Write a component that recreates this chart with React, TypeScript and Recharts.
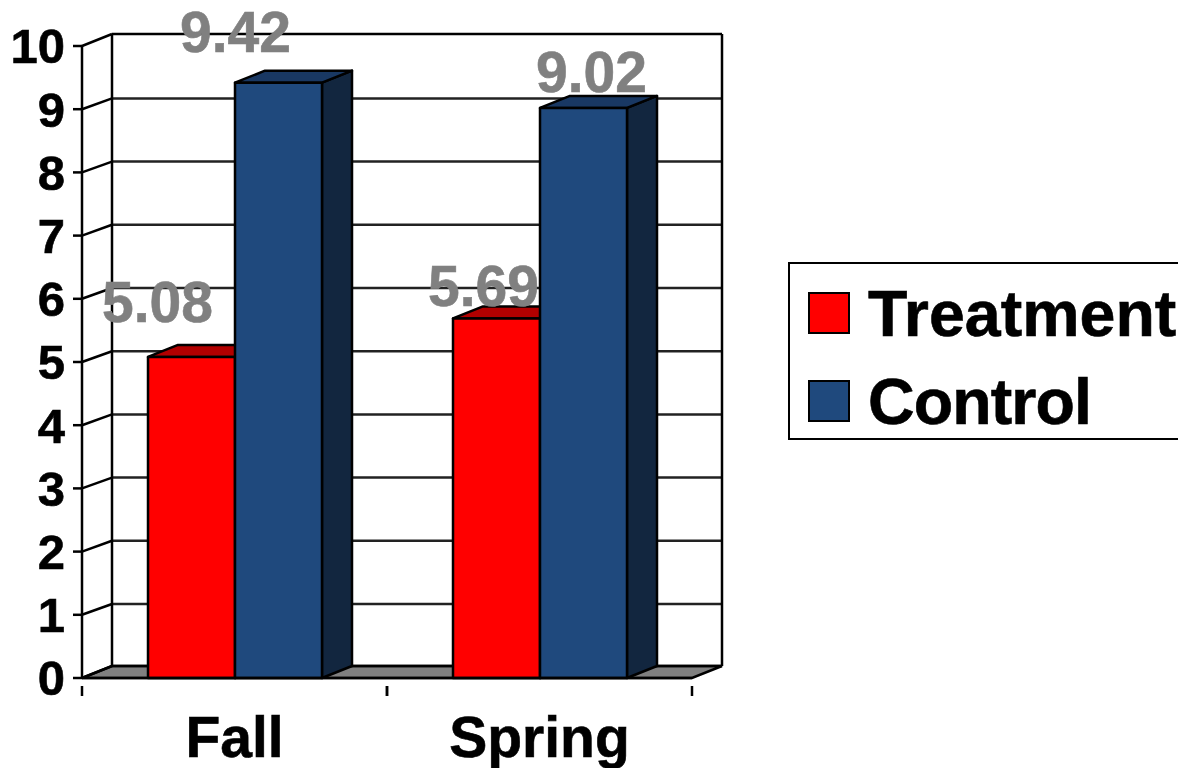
import React from 'react';
import { BarChart, Bar, XAxis, YAxis, CartesianGrid, Legend, LabelList } from 'recharts';

const categories = ['Fall', 'Spring'];
const treatment = [5.08, 5.69];
const control = [9.42, 9.02];
const yTicks = [0, 1, 2, 3, 4, 5, 6, 7, 8, 9, 10];
const data = categories.map((name, i) => ({ name, Treatment: treatment[i], Control: control[i] }));

const FONT = '"Liberation Sans", Arial, sans-serif';
const DX = 30;
const DY = -12;
const BAND = 305;
const palette: Record<string, { front: string; top: string; side: string }> = {
  Treatment: { front: '#FF0000', top: '#B20000', side: '#7F0000' },
  Control: { front: '#1F497D', top: '#193863', side: '#12263F' },
};
// hand-placed label nudges relative to the top-centre of each bar
const labelNudge: Record<string, { dx: number; dy: number }[]> = {
  Treatment: [{ dx: -34, dy: -35 }, { dx: -13, dy: -12 }],
  Control: [{ dx: -43, dy: -31 }, { dx: 8, dy: -16 }],
};
const legendSpacing: Record<string, string> = { Treatment: '0', Control: '-0.9px' };

const Bar3D = (key: string) => (p: any) => {
  const { x, y, width, height } = p;
  const c = palette[key];
  return (
    <g stroke="#000" strokeWidth={2.5} strokeLinejoin="round">
      <polygon fill={c.side} points={`${x + width},${y} ${x + width + DX},${y + DY} ${x + width + DX},${y + height + DY} ${x + width},${y + height}`} />
      <polygon fill={c.top} points={`${x},${y} ${x + DX},${y + DY} ${x + width + DX},${y + DY} ${x + width},${y}`} />
      <rect x={x} y={y} width={width} height={height} fill={c.front} />
    </g>
  );
};

const GridRow = (p: any) => {
  const { x1, x2, y1 } = p;
  const isFloor = Math.abs(y1 - 678) < 1;
  const isTop = Math.abs(y1 - 46) < 1;
  const dy = isTop || isFloor ? DY : DY + 1.2;
  return (
    <g>
      {isFloor && (
        <polygon fill="#808080" stroke="#000" strokeWidth={2.5} points={`${x1},${y1} ${x1 + DX},${y1 + DY} ${x2 + DX},${y1 + DY} ${x2},${y1}`} />
      )}
      {isTop && (
        <>
          <line x1={x1 + DX} x2={x1 + DX} y1={y1 + DY} y2={678 + DY} stroke="#000" strokeWidth={2.5} />
          <line x1={x2 + DX} x2={x2 + DX} y1={y1 + DY} y2={678 + DY} stroke="#000" strokeWidth={2.5} />
        </>
      )}
      <line x1={x1} y1={y1} x2={x1 + DX} y2={y1 + dy} stroke="#000" strokeWidth={2.5} />
      <line x1={x1 + DX} y1={y1 + dy} x2={x2 + DX} y2={y1 + dy} stroke={isTop || isFloor ? '#000' : '#222'} strokeWidth={2.5} />
    </g>
  );
};

const XTick = (p: any) => {
  const { x, y, payload } = p;
  return (
    <g>
      <line x1={x - BAND / 2} x2={x - BAND / 2} y1={y} y2={y + 10} stroke="#000" strokeWidth={2.5} />
      <line x1={x + BAND / 2} x2={x + BAND / 2} y1={y} y2={y + 10} stroke="#000" strokeWidth={2.5} />
      <text x={x} y={757} textAnchor="middle" fontFamily={FONT} fontWeight={700} fontSize={57} fill="#000" stroke="#000" strokeWidth={0.6}>
        {payload.value}
      </text>
    </g>
  );
};

const ValueLabel = (key: string) => (p: any) => {
  const { x, y, width, value, index } = p;
  const n = labelNudge[key][index];
  return (
    <text x={x + width / 2 + n.dx} y={y + n.dy} textAnchor="middle" fontFamily={FONT} fontWeight={700} fontSize={57} fill="#808080" stroke="#808080" strokeWidth={0.6}>
      {value}
    </text>
  );
};

const LegendBox = ({ payload }: any) => (
  <div style={{ position: 'relative', width: 390, height: 178, boxSizing: 'border-box', border: '2px solid #000', borderRight: 'none', background: '#fff', fontFamily: FONT, fontWeight: 700, fontSize: 64.5, color: '#000', WebkitTextStroke: '0.6px #000' }}>
    {(payload || []).map((e: any, i: number) => (
      <div key={e.value}>
        <div style={{ position: 'absolute', left: 18, top: 28 + i * 88, width: 42, height: 42, boxSizing: 'border-box', border: '2.5px solid #000', background: palette[e.value].front }} />
        <div style={{ position: 'absolute', left: 78, top: 14 + i * 88, lineHeight: '73px', whiteSpace: 'nowrap', letterSpacing: legendSpacing[e.value] }}>{e.value}</div>
      </div>
    ))}
  </div>
);

export default function App() {
  return (
    <div style={{ position: 'absolute', left: 0, top: 0, width: 1178, height: 768, overflow: 'hidden', background: '#fff' }}>
      <BarChart width={1178} height={768} data={data} barGap={0} barCategoryGap={66} margin={{ top: 46, right: 486, bottom: 0, left: 0 }}>
        <CartesianGrid vertical={false} horizontal={GridRow as any} syncWithTicks />
        <XAxis dataKey="name" height={90} interval={0} tick={XTick as any} tickLine={false} axisLine={{ stroke: '#000', strokeWidth: 2.5 }} />
        <YAxis
          width={82}
          domain={[0, 10]}
          ticks={yTicks}
          interval={0}
          tickSize={9}
          tickMargin={8}
          axisLine={{ stroke: '#000', strokeWidth: 2.5 }}
          tickLine={{ stroke: '#000', strokeWidth: 2.5 }}
          tick={{ fontFamily: FONT, fontWeight: 700, fontSize: 49, fill: '#000', stroke: '#000', strokeWidth: 0.6 }}
        />
        <Legend layout="vertical" align="center" verticalAlign="middle" itemSorter={null as any} content={LegendBox as any} wrapperStyle={{ left: 788, top: 262, width: 390 }} />
        <Bar dataKey="Treatment" fill="#FF0000" isAnimationActive={false} shape={Bar3D('Treatment') as any}>
          <LabelList dataKey="Treatment" content={ValueLabel('Treatment') as any} />
        </Bar>
        <Bar dataKey="Control" fill="#1F497D" isAnimationActive={false} shape={Bar3D('Control') as any}>
          <LabelList dataKey="Control" content={ValueLabel('Control') as any} />
        </Bar>
      </BarChart>
    </div>
  );
}
